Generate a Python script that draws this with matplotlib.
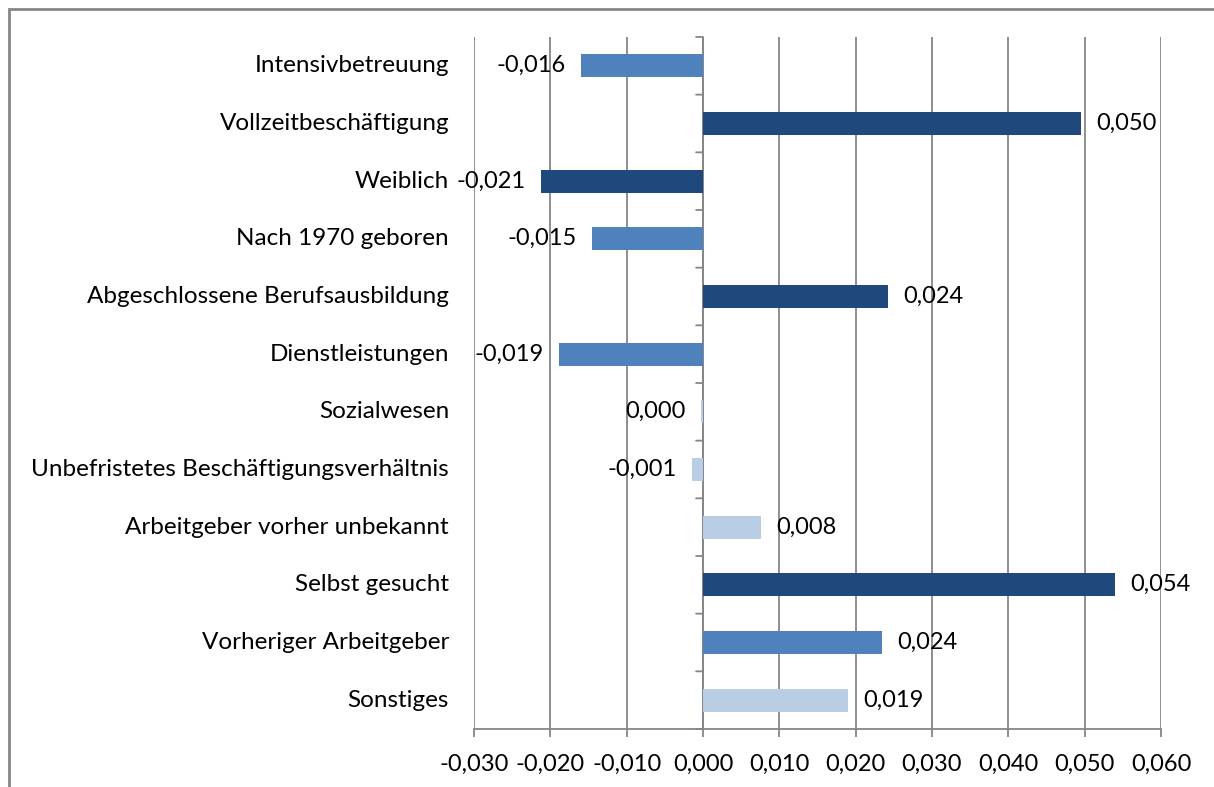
import matplotlib.pyplot as plt
from matplotlib.patches import Rectangle

categories = ["Intensivbetreuung", "Vollzeitbeschäftigung", "Weiblich",
              "Nach 1970 geboren", "Abgeschlossene Berufsausbildung",
              "Dienstleistungen", "Sozialwesen",
              "Unbefristetes Beschäftigungsverhältnis",
              "Arbeitgeber vorher unbekannt", "Selbst gesucht",
              "Vorheriger Arbeitgeber", "Sonstiges"]
values = [-0.0160, 0.0495, -0.0212, -0.0145, 0.0242, -0.0189,
          -0.0003, -0.0014, 0.0076, 0.0540, 0.0235, 0.0190]
shade = ["mid", "dark", "dark", "mid", "dark", "mid",
         "light", "light", "light", "dark", "mid", "light"]
xticks = [-0.03, -0.02, -0.01, 0.0, 0.01, 0.02, 0.03, 0.04, 0.05, 0.06]

palette = {"dark": "#1F497D", "mid": "#4F81BD", "light": "#B9CDE5"}

plt.rcParams['font.family'] = ['Lato', 'DejaVu Sans']

fig = plt.figure(figsize=(12.14, 7.87), dpi=100)
ax = fig.add_axes([0.3905, 0.0737, 0.9563 - 0.3905, 0.953 - 0.0737])

# chart border (right/bottom run off the image like the original)
fig.patches.append(Rectangle((8.5 / 1214, -0.05), 1.1, 1 - 8.5 / 787 + 0.05,
                             transform=fig.transFigure, fill=False,
                             edgecolor="#868686", linewidth=2))

pos = list(range(len(categories)))
ax.barh(pos, values, height=0.4, color=[palette[s] for s in shade], zorder=3)

for p, v in zip(pos, values):
    txt = f"{v:.3f}".replace(".", ",")
    if txt == "-0,000":
        txt = "0,000"
    if v < 0:
        ax.annotate(txt, (v, p), xytext=(-11, 0), textcoords="offset points",
                    ha="right", va="center", fontsize=17, zorder=4)
    else:
        ax.annotate(txt, (v, p), xytext=(11, 0), textcoords="offset points",
                    ha="left", va="center", fontsize=17, zorder=4)

ax.set_xlim(-0.03, 0.06)
ax.set_ylim(len(categories) - 0.5, -0.5)
ax.set_xticks(xticks)
ax.set_xticklabels([f"{t:.3f}".replace(".", ",") for t in xticks], fontsize=17)
ax.set_yticks([])
ax.grid(axis="x", color="#868686", linewidth=1.3, zorder=0)
ax.tick_params(axis="x", length=6, width=1.3, color="#868686", pad=12)

for s in ["top", "right", "left"]:
    ax.spines[s].set_visible(False)
ax.spines["bottom"].set_color("#868686")
ax.spines["bottom"].set_linewidth(1.3)

# zero axis with category tick marks
ax.axvline(0, color="#868686", linewidth=1.3, zorder=2)
for b in range(len(categories) + 1):
    ax.annotate("", xy=(0, b - 0.5), xytext=(-5, 0), textcoords="offset points",
                arrowprops=dict(arrowstyle="-", color="#868686", lw=1.3,
                                shrinkA=0, shrinkB=0))

# category labels to the left of the plot area
for p, c in zip(pos, categories):
    ax.annotate(c, (0, p), xycoords=("axes fraction", "data"),
                xytext=(-18, 0), textcoords="offset points",
                ha="right", va="center", fontsize=17.5)

fig.savefig("out.png", dpi=100)
